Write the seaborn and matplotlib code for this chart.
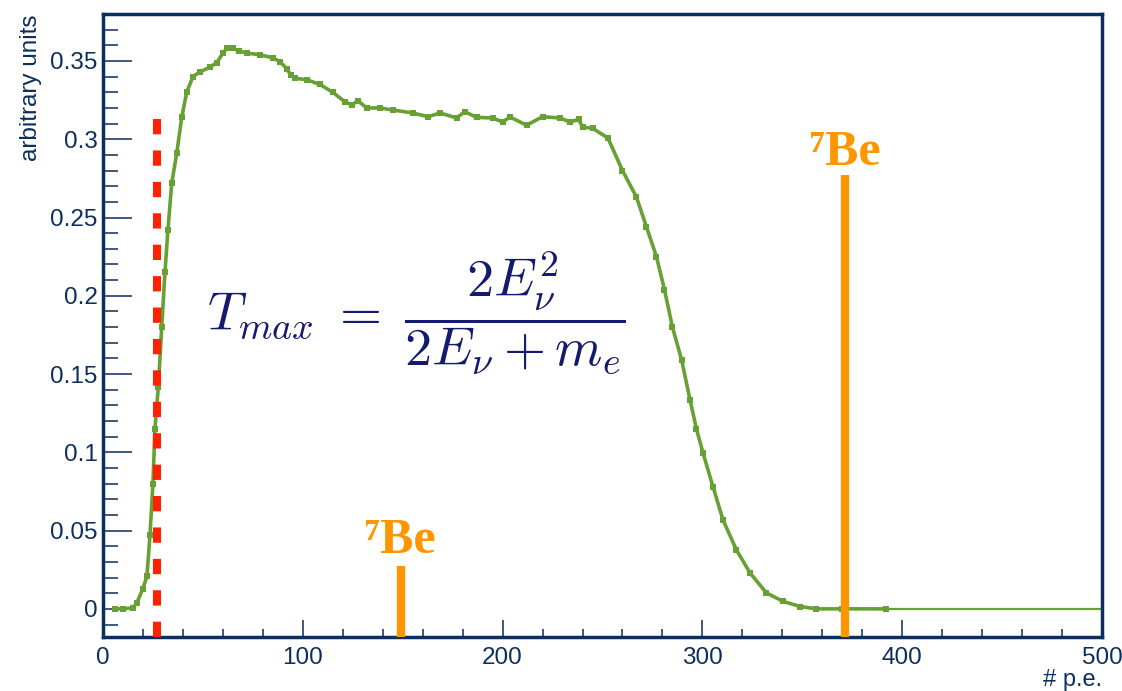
import seaborn as sns
import matplotlib.pyplot as plt
from matplotlib.ticker import MultipleLocator
import numpy as np
import pandas as pd

sns.set_theme(style="white")
plt.rcParams["font.family"] = ["Liberation Sans", "DejaVu Sans"]
plt.rcParams["mathtext.fontset"] = "cm"

# spectrum (# p.e. vs arbitrary units)
pe = [6, 10, 15, 17, 20, 22, 23.5, 25, 26, 27.7, 29.4, 31, 32.5, 34.4, 36.9, 39.4,
      41.9, 45, 48.5, 53.5, 57, 60, 62, 65, 68, 72, 78.6, 85, 88.6, 92, 94, 96,
      102, 108.6, 115, 121, 124.5, 127.6, 132, 138.6, 145, 155, 162.7, 168.7,
      177, 181, 187, 195, 200, 203.7, 212, 220, 228.7, 233.7, 238, 240, 245,
      252.7, 260, 267, 272, 277, 281, 285, 289.6, 293.8, 297, 300.3, 305.3,
      310.3, 317, 323.8, 332, 340.5, 349, 357, 370, 392]
spectrum = [0, 0, 0.0006, 0.004, 0.013, 0.021, 0.047, 0.08, 0.115, 0.142, 0.18,
            0.215, 0.242, 0.272, 0.291, 0.314, 0.33, 0.34, 0.343, 0.346, 0.349,
            0.355, 0.358, 0.358, 0.3565, 0.355, 0.354, 0.352, 0.3496, 0.345,
            0.341, 0.339, 0.338, 0.335, 0.330, 0.324, 0.322, 0.3245, 0.320,
            0.320, 0.3187, 0.3168, 0.3144, 0.3168, 0.3136, 0.3176, 0.314,
            0.3136, 0.311, 0.3142, 0.309, 0.3144, 0.3136, 0.311, 0.3127,
            0.3078, 0.307, 0.3008, 0.280, 0.263, 0.244, 0.225, 0.204, 0.180,
            0.159, 0.1335, 0.115, 0.0996, 0.078, 0.0568, 0.0377, 0.023,
            0.0102, 0.0047, 0.0015, 0, 0, 0]
tail_pe = [392, 500]
tail_val = [0, 0]

threshold_pe = 27
threshold_top = 0.317
be7_pe = [149, 371.4]
be7_top = [0.0275, 0.277]
be7_label_y = [0.0358, 0.2836]

ymin, ymax = -0.018, 0.38
navy = "#0c2e5e"
green = "#67a033"

df = pd.DataFrame({"pe": pe, "val": spectrum})
tail = pd.DataFrame({"pe": tail_pe, "val": tail_val})

fig = plt.figure(figsize=(11.22, 6.91), dpi=100)
ax = fig.add_axes([0.0918, 0.0781, 0.8904, 0.9016])

sns.lineplot(data=tail, x="pe", y="val", color=green, lw=1.6, ax=ax)
sns.lineplot(data=df, x="pe", y="val", color=green, lw=2.6, marker="s",
             markersize=4, markeredgewidth=0, ax=ax)

ax.vlines(threshold_pe, ymin, threshold_top, colors="#ff2200", lw=5.8,
          linestyles=(0, (1.9, 2.0)), zorder=3)
ax.vlines(be7_pe, ymin, be7_top, colors="#ff9600", lw=6.0, zorder=3)
for xp, yl in zip(be7_pe, be7_label_y):
    ax.text(xp, yl, "⁷Be", color="#ff9600", fontsize=36, fontweight="bold",
            family=["Liberation Serif", "DejaVu Serif"], ha="center", va="baseline")

ax.text(157, 0.189, r"$T_{max}\;=\;\dfrac{2E_\nu^2}{2E_\nu + m_e}$",
        color="#141a6e", fontsize=39, ha="center", va="center")

ax.set_xlim(0, 500)
ax.set_ylim(ymin, ymax)
ax.xaxis.set_major_locator(MultipleLocator(100))
ax.xaxis.set_minor_locator(MultipleLocator(20))
ax.yaxis.set_major_locator(MultipleLocator(0.05))
ax.yaxis.set_minor_locator(MultipleLocator(0.01))
ax.yaxis.set_major_formatter(plt.FuncFormatter(lambda v, p: f"{v:g}"))

ax.tick_params(axis="y", which="major", direction="in", length=21, width=1.1,
               color=navy, labelcolor=navy, labelsize=17.5, pad=4, left=True)
ax.tick_params(axis="y", which="minor", direction="in", length=10.5, width=1.1,
               color=navy, left=True)
ax.tick_params(axis="x", which="major", direction="in", length=12, width=1.1,
               color=navy, labelcolor=navy, labelsize=17.5, pad=7, bottom=True)
ax.tick_params(axis="x", which="minor", direction="in", length=6, width=1.1,
               color=navy, bottom=True)
for s in ax.spines.values():
    s.set_color(navy)
    s.set_linewidth(2.5)

ax.set_xlabel("# p.e.", color=navy, fontsize=17, loc="right", labelpad=0)
ax.set_ylabel("arbitrary units", color=navy, fontsize=17.5, loc="top", labelpad=6)

fig.savefig("out.png", dpi=100)
